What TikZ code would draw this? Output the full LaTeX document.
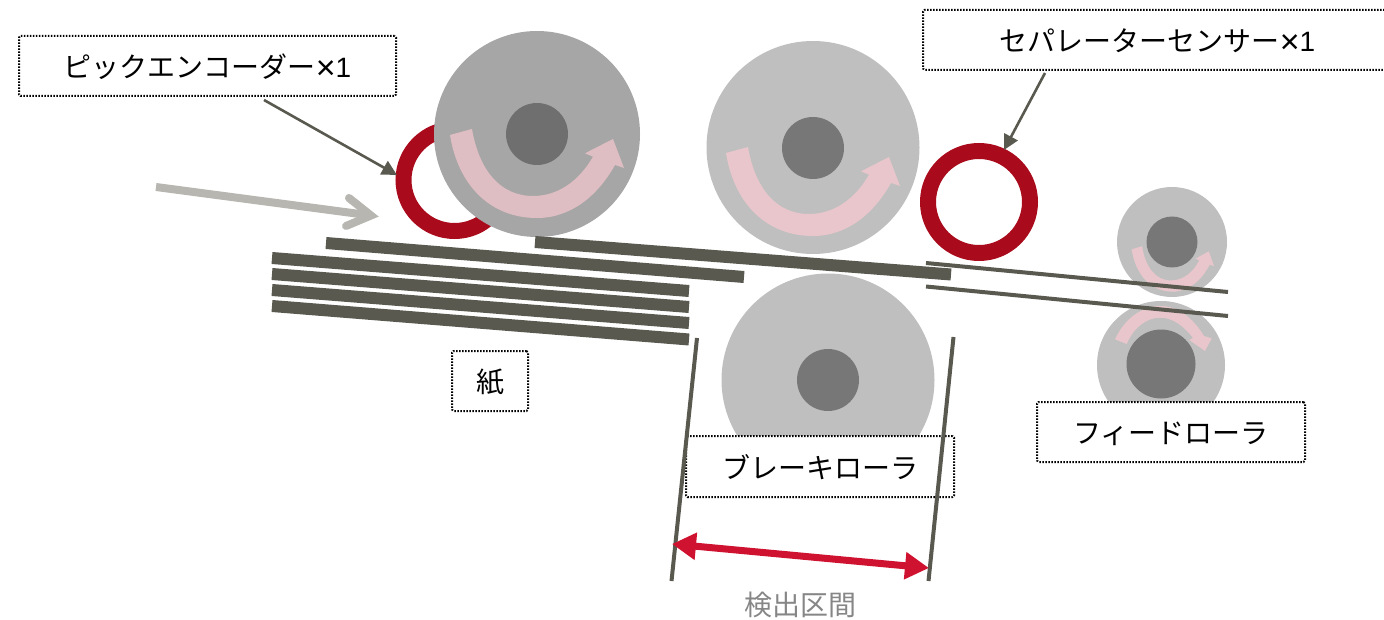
\documentclass[tikz,border=0pt]{standalone}
\usepackage{fontspec}
\setmainfont{Noto Sans CJK JP}
\newfontfamily\latinfont{Liberation Sans}
\usetikzlibrary{arrows.meta}
\definecolor{paperc}{HTML}{595950}
\definecolor{ringc}{HTML}{A90A1C}
\definecolor{rollerA}{HTML}{A6A6A6}
\definecolor{hubA}{HTML}{6F6F6F}
\definecolor{rollerB}{HTML}{BFBFBF}
\definecolor{hubB}{HTML}{777777}
\definecolor{pinkc}{HTML}{FECBD3}
\definecolor{feedc}{HTML}{B7B6B0}
\definecolor{redc}{HTML}{CF1230}
\tikzset{
  disc/.style={circle,inner sep=0pt,outer sep=0pt,fill=#1},
  ring/.style={circle,draw=ringc,line width=16pt,inner sep=0pt,outer sep=0pt},
  sheet/.style={paperc,line width=12pt},
  thinsheet/.style={paperc,line width=4pt},
  limit/.style={paperc,line width=4pt},
  callout/.style={paperc,line width=2.6pt,-{Triangle[length=15pt,width=15pt]}},
  rotarrow/.style={fill=pinkc,fill opacity=.65},
  infeed/.style={feedc,line width=8pt},
  labelbox/.style={draw=black,fill=white,line width=2pt,dash pattern=on 1.5pt off 1.5pt,rounded corners=1.5pt,
    inner sep=0pt,outer sep=0pt,text=black,font=\fontsize{28}{32}\selectfont,text depth=0pt,align=center},
}
\newcommand{\bigarc}{(450,135) .. controls (458,185) and (490,218) .. (537,218)
  .. controls (570,218) and (597,197) .. (615,165) -- (624,168) -- (613,139) -- (585,153.3) -- (593,156.7)
  .. controls (579,181) and (558,196) .. (533,196) .. controls (500,196) and (479,170) .. (472,129) -- cycle}
\newcommand{\timesone}{{\latinfont\raisebox{-2pt}{\fontsize{34}{34}\selectfont ×}1}}
\begin{document}
\begin{tikzpicture}[x=1pt,y=-1pt]
\useasboundingbox (0,0) rectangle (1384,620);
\clip (0,0) rectangle (1384,620);
% sensor rings and rollers
\node[ring,minimum size=102pt] (pickring) at (454.5,180) {};
\node[ring,minimum size=102pt] (sepring) at (979,202) {};
\node[disc=rollerA,minimum size=206pt] (pick) at (537,134) {};
\node[disc=hubA,minimum size=62pt] (pickhub) at (537,134) {};
\node[disc=rollerB,minimum size=213pt] (sep) at (813,147.5) {};
\node[disc=hubB,minimum size=62pt] (sephub) at (813,148) {};
\node[disc=rollerB,minimum size=213pt] (brake) at (828,380) {};
\node[disc=hubB,minimum size=62pt] (brakehub) at (828,380) {};
\node[disc=rollerB,minimum size=110pt] (feedtop) at (1172,242) {};
\node[disc=hubB,minimum size=51pt] (feedtophub) at (1172,242) {};
\node[disc=rollerB,minimum size=128pt] (feedbot) at (1161,365) {};
\node[disc=hubB,minimum size=69pt] (feedbothub) at (1161,364) {};
% rotation arrows
\path[rotarrow] \bigarc;
\begin{scope}[shift={(276,18)}]
\path[rotarrow] \bigarc;
\end{scope}
\begin{scope}[shift={(918.85,180.45)},xscale=.473,yscale=.51]
\path[rotarrow] \bigarc;
\end{scope}
\path[rotarrow] (1115,339.3) .. controls (1125,318) and (1142,306) .. (1161,306)
  .. controls (1178,306) and (1193,318) .. (1204,336) -- (1211.7,338.3) -- (1205,351) -- (1189.3,340) -- (1193,338)
  .. controls (1183,325) and (1172,317.7) .. (1160,317.7) .. controls (1147,317.7) and (1134,327) .. (1126.7,344) -- cycle;
% paper
\coordinate (s1a) at (272,258); \coordinate (s1b) at (689,291);
\coordinate (s2a) at (272,274); \coordinate (s2b) at (689,307);
\coordinate (s3a) at (272,290); \coordinate (s3b) at (689,323);
\coordinate (s4a) at (272,306); \coordinate (s4b) at (689,339.5);
\coordinate (s5a) at (326,243); \coordinate (s5b) at (744,277);
\coordinate (s6a) at (535,242); \coordinate (s6b) at (951,274.5);
\draw[sheet] (s1a) -- (s1b);
\draw[sheet] (s2a) -- (s2b);
\draw[sheet] (s3a) -- (s3b);
\draw[sheet] (s4a) -- (s4b);
\draw[sheet] (s5a) -- (s5b);
\draw[sheet] (s6a) -- (s6b);
\coordinate (t1a) at (926,263); \coordinate (t1b) at (1228,292);
\coordinate (t2a) at (926,286.5); \coordinate (t2b) at (1228,316);
\draw[thinsheet] (t1a) -- (t1b);
\draw[thinsheet] (t2a) -- (t2b);
% infeed arrow
\coordinate (inA) at (156,187); \coordinate (inB) at (371,215.5);
\coordinate (inC) at (349,198); \coordinate (inD) at (346,226);
\draw[infeed] (inA) -- (inB);
\draw[infeed,line cap=round,line join=miter] (inC) -- (inB) -- (inD);
% labels
\node[labelbox,minimum width=377pt,minimum height=60pt] (lpick) at (207.5,66) {ピックエンコーダー\timesone};
\node[labelbox,minimum width=469pt,minimum height=60pt] (lsep) at (1157.5,40) {セパレーターセンサー\timesone};
\node[labelbox,minimum width=76pt,minimum height=60pt] (lpaper) at (490,381) {紙};
\node[labelbox,minimum width=268pt,minimum height=61pt] (lbrake) at (820,466.5) {ブレーキローラ};
\node[labelbox,minimum width=268pt,minimum height=60pt] (lfeed) at (1171,432) {\raisebox{-2pt}{フィードローラ}};
% callouts
\coordinate (cpA) at (264,100); \coordinate (cpB) at (397,175);
\coordinate (csA) at (1045,73); \coordinate (csB) at (1004,150);
\draw[callout] (cpA) -- (cpB);
\draw[callout] (csA) -- (csB);
% detection interval
\coordinate (lA) at (697,338); \coordinate (lB) at (671.5,581);
\coordinate (rA) at (953.5,337); \coordinate (rB) at (928.5,581);
\draw[limit] (lA) -- (lB);
\draw[limit] (rA) -- (rB);
\coordinate (dA) at (672,544); \coordinate (dB) at (929,568);
\draw[redc,line width=7pt,{Triangle[length=24pt,width=26pt]}-{Triangle[length=24pt,width=26pt]}] (dA) -- (dB);
\node[text=gray!95,font=\fontsize{28}{32}\selectfont,inner sep=0pt] (interval) at (800,605) {検出区間};
\end{tikzpicture}
\end{document}
